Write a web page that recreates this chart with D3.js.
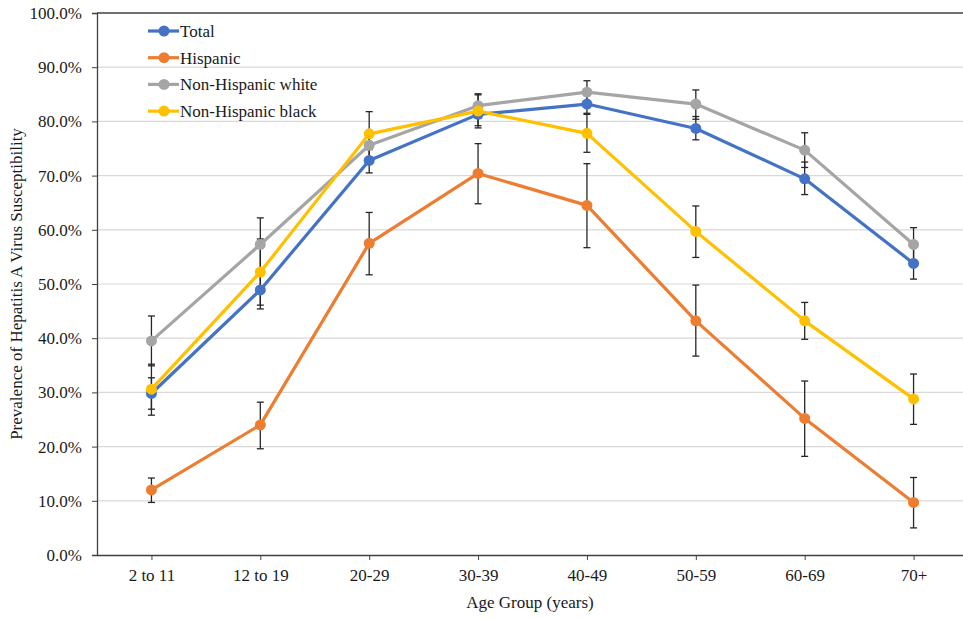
<!DOCTYPE html>
<html>
<head>
<meta charset="utf-8">
<script src="https://cdn.jsdelivr.net/npm/d3@7"></script>
<style>
  body { margin: 0; background: #fff; }
  svg { font-family: "Liberation Serif", "Times New Roman", serif; }
</style>
</head>
<body>
<div id="chart-container"></div>
<script>
// Data
const ageGroups = ["2 to 11", "12 to 19", "20-29", "30-39", "40-49", "50-59", "60-69", "70+"];
const yTicks = [0, 10, 20, 30, 40, 50, 60, 70, 80, 90, 100];

const totalVals = [29.8, 48.9, 72.8, 81.3, 83.2, 78.7, 69.4, 53.8];
const totalLo   = [26.9, 45.4, 70.5, 79.2, 81.5, 76.6, 66.5, 50.9];
const totalHi   = [32.7, 52.4, 75.2, 83.4, 84.9, 80.9, 72.5, 56.7];

const hispVals = [12.0, 24.0, 57.5, 70.4, 64.5, 43.2, 25.2, 9.7];
const hispLo   = [9.7, 19.6, 51.7, 64.8, 56.7, 36.7, 18.2, 5.0];
const hispHi   = [14.2, 28.2, 63.2, 75.9, 72.2, 49.8, 32.1, 14.3];

const whiteVals = [39.5, 57.3, 75.6, 82.9, 85.4, 83.2, 74.7, 57.3];
const whiteLo   = [34.9, 52.4, 72.9, 80.7, 83.3, 80.4, 71.5, 54.2];
const whiteHi   = [44.1, 62.2, 78.2, 85.1, 87.5, 85.8, 77.9, 60.4];

const blackVals = [30.6, 52.2, 77.7, 81.9, 77.8, 59.7, 43.2, 28.8];
const blackLo   = [25.8, 46.1, 74.8, 78.8, 74.3, 54.9, 39.8, 24.1];
const blackHi   = [35.2, 58.3, 81.8, 84.9, 81.3, 64.4, 46.6, 33.4];

const seriesNames = ["Total", "Hispanic", "Non-Hispanic white", "Non-Hispanic black"];
const seriesColors = ["#4472C4", "#ED7D31", "#A5A5A5", "#FFC000"];

const series = [
  {name: seriesNames[0], color: seriesColors[0], vals: totalVals, lo: totalLo, hi: totalHi},
  {name: seriesNames[1], color: seriesColors[1], vals: hispVals, lo: hispLo, hi: hispHi},
  {name: seriesNames[2], color: seriesColors[2], vals: whiteVals, lo: whiteLo, hi: whiteHi},
  {name: seriesNames[3], color: seriesColors[3], vals: blackVals, lo: blackLo, hi: blackHi}
];

// Dimensions - plot area runs a bit past the right edge like the reference
const fullW = 963, fullH = 618;
const margin = {top: 13, left: 97, bottom: 63};
const plotW = 871;
const plotH = fullH - margin.top - margin.bottom;

const svg = d3.select("#chart-container")
  .append("svg")
    .attr("width", fullW)
    .attr("height", fullH);

const g = svg.append("g")
  .attr("transform", `translate(${margin.left}, ${margin.top})`);

const x = d3.scalePoint()
  .domain(ageGroups)
  .range([0, plotW])
  .padding(0.5);

const y = d3.scaleLinear()
  .domain([0, 100])
  .range([plotH, 0]);

// Horizontal gridlines
g.selectAll(".grid")
  .data(yTicks.slice(1, -1))
  .join("line")
  .attr("x1", 0)
  .attr("x2", plotW)
  .attr("y1", d => y(d))
  .attr("y2", d => y(d))
  .attr("stroke", "#d9d9d9")
  .attr("stroke-width", 1.2);

// top border line
g.append("line")
  .attr("x1", 0).attr("x2", plotW)
  .attr("y1", y(100)).attr("y2", y(100))
  .attr("stroke", "#404040")
  .attr("stroke-width", 1.3);

// Y axis
g.append("g")
  .call(d3.axisLeft(y)
    .tickValues(yTicks)
    .tickFormat(d => d.toFixed(1) + "%")
    .tickSize(5)
    .tickPadding(10))
  .call(a => a.select(".domain").attr("stroke", "#404040").attr("stroke-width", 1.3))
  .call(a => a.selectAll(".tick line").attr("stroke", "#404040"))
  .call(a => a.selectAll(".tick text")
    .attr("fill", "#1a1a1a")
    .style("font-size", "17px")
    .style("font-family", "'Liberation Serif', serif"));

// X axis
g.append("g")
  .attr("transform", `translate(0, ${plotH})`)
  .call(d3.axisBottom(x).tickSize(5).tickPadding(9).tickSizeOuter(0))
  .call(a => a.select(".domain").attr("stroke", "#404040").attr("stroke-width", 1.3))
  .call(a => a.selectAll(".tick line").attr("stroke", "#404040"))
  .call(a => a.selectAll(".tick text")
    .attr("fill", "#1a1a1a")
    .style("font-size", "17px")
    .style("font-family", "'Liberation Serif', serif"));

// Error bars first (markers sit on top)
const capW = 3.5;
series.forEach(s => {
  const eb = g.append("g").attr("stroke", "#262626").attr("stroke-width", 1.3);
  ageGroups.forEach((cat, i) => {
    const cx = x(cat);
    eb.append("line").attr("x1", cx).attr("x2", cx).attr("y1", y(s.lo[i])).attr("y2", y(s.hi[i]));
    eb.append("line").attr("x1", cx - capW).attr("x2", cx + capW).attr("y1", y(s.lo[i])).attr("y2", y(s.lo[i]));
    eb.append("line").attr("x1", cx - capW).attr("x2", cx + capW).attr("y1", y(s.hi[i])).attr("y2", y(s.hi[i]));
  });
});

// Lines + markers
const line = d3.line()
  .x((d, i) => x(ageGroups[i]))
  .y(d => y(d));

series.forEach(s => {
  g.append("path")
    .datum(s.vals)
    .attr("fill", "none")
    .attr("stroke", s.color)
    .attr("stroke-width", 3.2)
    .attr("stroke-linejoin", "round")
    .attr("d", line);

  g.selectAll(null)
    .data(s.vals)
    .join("circle")
    .attr("cx", (d, i) => x(ageGroups[i]))
    .attr("cy", d => y(d))
    .attr("r", 5.5)
    .attr("fill", s.color);
});

// Legend
const legend = svg.append("g");
series.forEach((s, i) => {
  const ly = 31 + i * 26.7;
  legend.append("line")
    .attr("x1", 148).attr("x2", 179)
    .attr("y1", ly).attr("y2", ly)
    .attr("stroke", s.color)
    .attr("stroke-width", 3.2);
  legend.append("circle")
    .attr("cx", 164).attr("cy", ly).attr("r", 5.5)
    .attr("fill", s.color);
  legend.append("text")
    .attr("x", 180).attr("y", ly)
    .attr("dy", "0.35em")
    .attr("fill", "#1a1a1a")
    .style("font-size", "17px")
    .text(s.name);
});

// Axis titles
svg.append("text")
  .attr("x", margin.left + (fullW - margin.left) / 2)
  .attr("y", 608)
  .attr("text-anchor", "middle")
  .attr("fill", "#1a1a1a")
  .style("font-size", "17px")
  .text("Age Group (years)");

svg.append("text")
  .attr("transform", `translate(22, ${margin.top + plotH / 2}) rotate(-90)`)
  .attr("text-anchor", "middle")
  .attr("fill", "#1a1a1a")
  .style("font-size", "17px")
  .text("Prevalence of Hepatitis A Virus Susceptibility");
</script>
</body>
</html>
